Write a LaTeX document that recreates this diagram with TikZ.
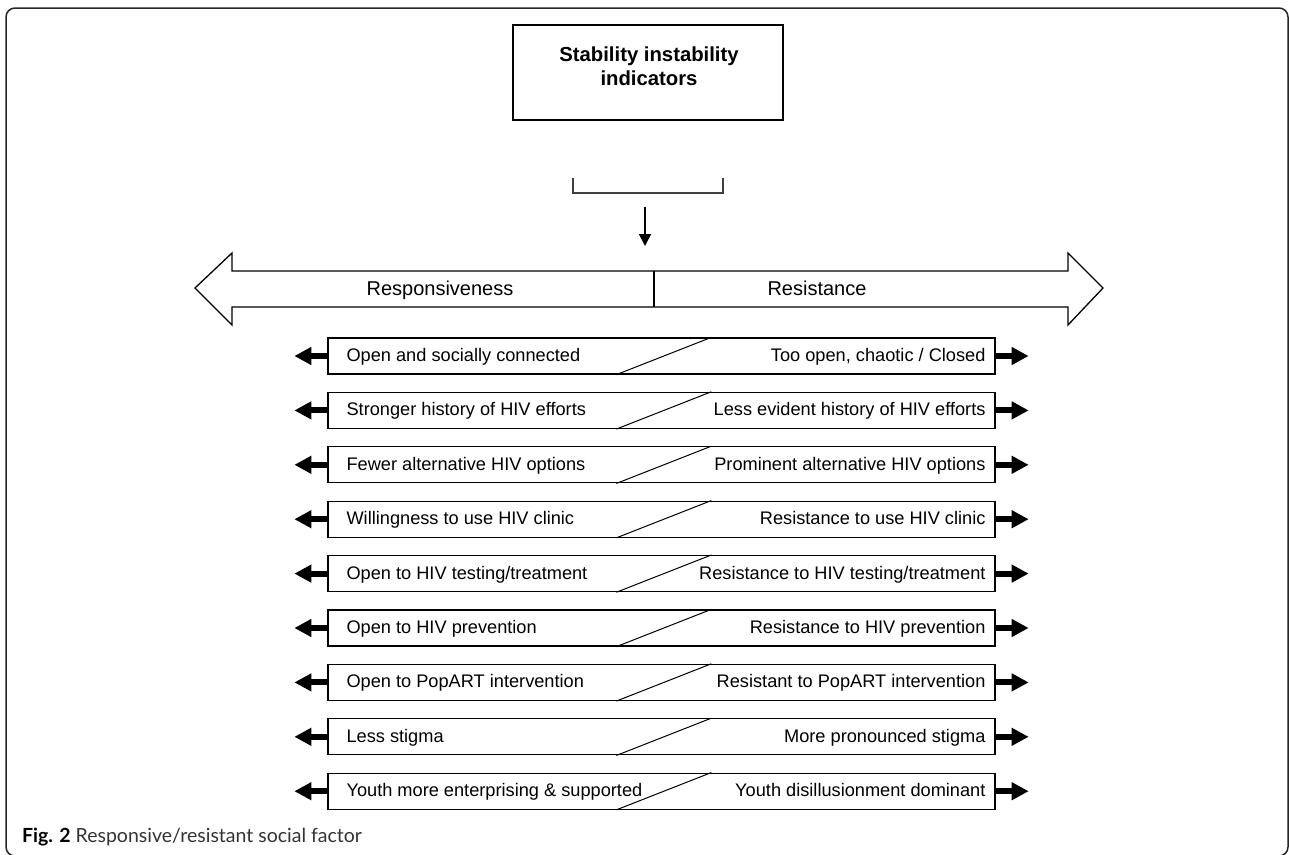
\documentclass[tikz,border=0pt]{standalone}
\usepackage{fontspec}
\setmainfont{Liberation Sans}
\newfontfamily\capfont{Lato}
\usetikzlibrary{arrows.meta,calc}
\tikzset{
  rowbox/.style={draw=black, line width=1.3pt, minimum width=667pt, minimum height=36pt, inner sep=0pt},
  lefttxt/.style={anchor=base west, inner sep=0pt, font=\fontsize{18.2}{20}\selectfont},
  righttxt/.style={anchor=base east, inner sep=0pt, font=\fontsize{18.2}{20}\selectfont},
  biglabel/.style={anchor=base, inner sep=0pt, font=\fontsize{20}{22}\selectfont},
  fatarrow/.style={line width=6pt, -{Triangle[length=17pt,width=17pt]}},
  slash/.style={line width=1pt},
}
\newcommand\rowpair[4]{%
  \node[rowbox] (r#1) at (661.5,#2) {};
  \node[lefttxt] (l#1) at ($(r#1.west)+(19,5.5)$) {#3};
  \node[righttxt] (rt#1) at ($(r#1.east)+(-10,5.5)$) {#4};
  \draw[slash] ($(r#1.south west)+(289,0)$) -- ($(r#1.north west)+(384,0)$);
  \draw[fatarrow] (r#1.west) -- ++(-33,0);
  \draw[fatarrow] (r#1.east) -- ++(33,0);
}
\begin{document}
\begin{tikzpicture}[x=1pt,y=-1pt]
\useasboundingbox (0,0) rectangle (1289,854);
% outer frame
\draw[line width=1.5pt, black!85, rounded corners=9pt] (6,8) rectangle (1288,856);
% title box
\node[draw, line width=1.3pt, minimum width=270pt, minimum height=95pt, inner sep=0pt] (title) at (648,72.5) {};
\node[align=center, font=\bfseries\fontsize{20.3}{24}\selectfont, inner sep=0pt] (ttext) at (649,66) {Stability instability\\indicators};
% bracket
\coordinate (b1) at (573,178);
\coordinate (b2) at (723,178);
\draw[line width=1.1pt, black!75] (b1) |- (648,193) -| (b2);
% down arrow
\coordinate (d1) at (645,207);
\coordinate (d2) at (645,246);
\draw[line width=1.6pt, -{Triangle[length=12pt,width=12pt]}] (d1) -- (d2);
% big double arrow
\draw[line width=1.3pt, line join=miter] (195,288) -- (232,253) -- (232,271) -- (1068,271) -- (1068,253) -- (1103,288) -- (1068,325) -- (1068,307) -- (232,307) -- (232,325) -- cycle;
\draw[line width=1.3pt] (654,271) -- (654,307);
\node[biglabel] (resp) at (440,295) {Responsiveness};
\node[biglabel] (resi) at (817,295) {Resistance};
% rows
\rowpair{1}{356}{Open and socially connected}{Too open, chaotic / Closed}
\rowpair{2}{410.4}{Stronger history of HIV efforts}{Less evident history of HIV efforts}
\rowpair{3}{464.8}{Fewer alternative HIV options}{Prominent alternative HIV options}
\rowpair{4}{519.2}{Willingness to use HIV clinic}{Resistance to use HIV clinic}
\rowpair{5}{573.6}{Open to HIV testing/treatment}{Resistance to HIV testing/treatment}
\rowpair{6}{628}{Open to HIV prevention}{Resistance to HIV prevention}
\rowpair{7}{682.4}{Open to PopART intervention}{Resistant to PopART intervention}
\rowpair{8}{736.8}{Less stigma}{More pronounced stigma}
\rowpair{9}{791.2}{Youth more enterprising \& supported}{Youth disillusionment dominant}
% caption
\node[anchor=base west, inner sep=0pt, font=\capfont\fontsize{19.5}{22}\selectfont] (cap) at (22,842) {\textbf{Fig. 2} \textcolor{black!80}{Responsive/resistant social factor}};
\end{tikzpicture}
\end{document}
